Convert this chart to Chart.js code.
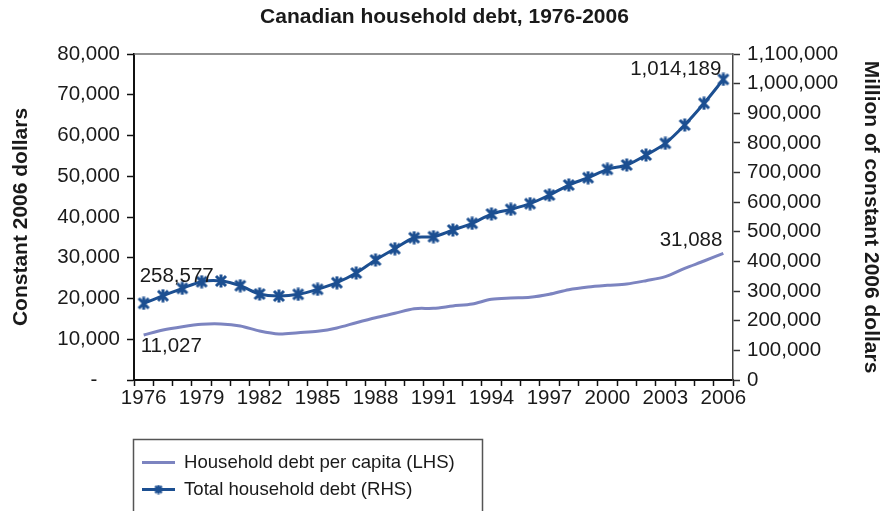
<!DOCTYPE html>
<html>
<head>
<meta charset="utf-8">
<title>Canadian household debt, 1976-2006</title>
<script src="https://cdn.jsdelivr.net/npm/chart.js@4/dist/chart.umd.min.js"></script>
<style>
  html, body { margin: 0; padding: 0; background: #fff; }
  #wrap { position: relative; width: 891px; height: 511px; }
</style>
</head>
<body>
<div id="wrap"><canvas id="debtChart" width="891" height="511"></canvas></div>
<script>
// ---- data ----
var years = ['1976', '1977', '1978', '1979', '1980', '1981', '1982', '1983', '1984', '1985',
             '1986', '1987', '1988', '1989', '1990', '1991', '1992', '1993', '1994', '1995',
             '1996', '1997', '1998', '1999', '2000', '2001', '2002', '2003', '2004', '2005', '2006'];

// household debt per capita, constant 2006 dollars (left axis)
var perCapita = [11027, 12270, 13080, 13660, 13740, 13250, 12020, 11290, 11620, 11950,
                 12760, 14060, 15290, 16360, 17500, 17590, 18160, 18650, 19800, 20120,
                 20290, 21030, 22160, 22820, 23230, 23560, 24380, 25360, 27400, 29200, 31088];

// total household debt, million of constant 2006 dollars (right axis)
var totalDebt = [258577, 284400, 309300, 331700, 334000, 318200, 290100, 283400, 289100, 306000,
                 328300, 361000, 404900, 443000, 480100, 483500, 506100, 528700, 560000, 575900,
                 595000, 624200, 657900, 682600, 710900, 725400, 759100, 798600, 860300, 933500, 1014189];

var leftTicks = [0, 10000, 20000, 30000, 40000, 50000, 60000, 70000, 80000];
var rightTicks = [0, 100000, 200000, 300000, 400000, 500000, 600000, 700000, 800000, 900000, 1000000, 1100000];

var seriesNames = ['Household debt per capita (LHS)', 'Total household debt (RHS)'];

// ---- styling ----
var FONT = 'Arial, "Liberation Sans", Helvetica, sans-serif';
var DARK_BLUE = '#1c4f91';
var LAVENDER = '#7c84c0';
var TEXT = '#1a1a1a';

// asterisk-like marker (X with a vertical bar)
function makeStar(size, lw) {
  var c = document.createElement('canvas');
  c.width = size; c.height = size;
  var g = c.getContext('2d');
  var m = lw / 2 + 0.5;
  g.strokeStyle = DARK_BLUE;
  g.lineWidth = lw;
  g.lineCap = 'butt';
  g.beginPath();
  g.moveTo(m, m); g.lineTo(size - m, size - m);
  g.moveTo(size - m, m); g.lineTo(m, size - m);
  g.moveTo(size / 2, 0.5); g.lineTo(size / 2, size - 0.5);
  g.stroke();
  return c;
}
var starMarker = makeStar(14, 3);
var starSmall = makeStar(10, 2.4);

function fmt(v) { return v.toLocaleString('en-US'); }

// title, top frame line, value callouts and the boxed legend
var decorPlugin = {
  id: 'decor',
  afterDraw: function(chart) {
    var ctx = chart.ctx;
    var area = chart.chartArea;
    ctx.save();

    // top frame
    ctx.strokeStyle = '#6b6b6b';
    ctx.lineWidth = 1.5;
    ctx.beginPath();
    ctx.moveTo(area.left, area.top);
    ctx.lineTo(area.right, area.top);
    ctx.stroke();

    // title
    ctx.fillStyle = TEXT;
    ctx.font = 'bold 21px ' + FONT;
    ctx.textAlign = 'center';
    ctx.textBaseline = 'middle';
    ctx.fillText('Canadian household debt, 1976-2006', chart.width / 2 - 1, 17);

    // callouts at the first and last points
    var lhs = chart.getDatasetMeta(0).data;
    var rhs = chart.getDatasetMeta(1).data;
    var last = years.length - 1;
    ctx.font = '20.5px ' + FONT;
    ctx.textBaseline = 'middle';

    ctx.textAlign = 'left';
    ctx.fillText(fmt(totalDebt[0]), rhs[0].x - 4, rhs[0].y - 27);
    ctx.fillText(fmt(perCapita[0]), lhs[0].x - 3, lhs[0].y + 11);

    ctx.textAlign = 'right';
    ctx.fillText(fmt(perCapita[last]), lhs[last].x - 1, lhs[last].y - 13);
    ctx.fillText(fmt(totalDebt[last]), rhs[last].x - 2, rhs[last].y - 10);

    // legend box
    var lx = 133.5, ly = 439.5, lw = 349;
    ctx.strokeStyle = '#555';
    ctx.lineWidth = 1.5;
    ctx.beginPath();
    ctx.moveTo(lx, chart.height + 2);
    ctx.lineTo(lx, ly);
    ctx.lineTo(lx + lw, ly);
    ctx.lineTo(lx + lw, chart.height + 2);
    ctx.stroke();

    var rows = [462.5, 489.5];
    ctx.lineWidth = 3;
    ctx.strokeStyle = LAVENDER;
    ctx.beginPath();
    ctx.moveTo(142, rows[0]); ctx.lineTo(175, rows[0]);
    ctx.stroke();
    ctx.strokeStyle = DARK_BLUE;
    ctx.beginPath();
    ctx.moveTo(142, rows[1]); ctx.lineTo(175, rows[1]);
    ctx.stroke();
    ctx.drawImage(starSmall, 158.5 - 5, rows[1] - 5);

    ctx.fillStyle = TEXT;
    ctx.font = '18.6px ' + FONT;
    ctx.textAlign = 'left';
    ctx.textBaseline = 'middle';
    ctx.fillText(seriesNames[0], 184, rows[0]);
    ctx.fillText(seriesNames[1], 184, rows[1]);

    ctx.restore();
  }
};

var chart = new Chart(document.getElementById('debtChart'), {
  type: 'line',
  data: {
    labels: years,
    datasets: [
      {
        label: seriesNames[0],
        data: perCapita,
        yAxisID: 'yLeft',
        borderColor: LAVENDER,
        borderWidth: 3,
        pointRadius: 0,
        tension: 0.3,
        fill: false
      },
      {
        label: seriesNames[1],
        data: totalDebt,
        yAxisID: 'yRight',
        borderColor: DARK_BLUE,
        backgroundColor: DARK_BLUE,
        borderWidth: 3,
        pointStyle: starMarker,
        pointRadius: 7,
        tension: 0.3,
        fill: false
      }
    ]
  },
  options: {
    responsive: false,
    animation: false,
    layout: { padding: { top: 54, left: 0, right: 0, bottom: 0 } },
    plugins: {
      legend: { display: false },
      title: { display: false },
      tooltip: { enabled: false }
    },
    scales: {
      x: {
        type: 'category',
        offset: true,
        grid: {
          offset: true,
          drawOnChartArea: false,
          drawTicks: true,
          tickLength: 6,
          tickColor: '#111',
          tickWidth: 1.5
        },
        border: { color: '#111', width: 2 },
        ticks: {
          autoSkip: false,
          maxRotation: 0,
          padding: 0,
          color: TEXT,
          font: { family: FONT, size: 20.5 },
          callback: function(value, index) {
            return index % 3 === 0 ? years[index] : '';
          }
        },
        afterFit: function(scale) { scale.height = 131; }
      },
      yLeft: {
        position: 'left',
        min: 0,
        max: 80000,
        afterBuildTicks: function(scale) {
          scale.ticks = leftTicks.map(function(v) { return { value: v }; });
        },
        grid: {
          drawOnChartArea: false,
          tickLength: 7,
          tickColor: '#111',
          tickWidth: 1.5
        },
        border: { color: '#111', width: 2 },
        ticks: {
          padding: 7,
          color: TEXT,
          font: { family: FONT, size: 20.5 },
          callback: function(value) { return value === 0 ? '-    ' : fmt(value); }
        },
        title: {
          display: true,
          text: 'Constant 2006 dollars',
          color: TEXT,
          font: { family: FONT, size: 21, weight: 'bold' },
          padding: { top: 9, bottom: 0 }
        },
        afterFit: function(scale) { scale.width = 134; }
      },
      yRight: {
        position: 'right',
        min: 0,
        max: 1100000,
        afterBuildTicks: function(scale) {
          scale.ticks = rightTicks.map(function(v) { return { value: v }; });
        },
        grid: {
          drawOnChartArea: false,
          tickLength: 7,
          tickColor: '#333',
          tickWidth: 1.5
        },
        border: { color: '#444', width: 1.5 },
        ticks: {
          padding: 7,
          color: TEXT,
          font: { family: FONT, size: 20.5 },
          callback: function(value) { return fmt(value); }
        },
        title: {
          display: true,
          text: 'Million of constant 2006 dollars',
          color: TEXT,
          font: { family: FONT, size: 21, weight: 'bold' },
          padding: { top: 8, bottom: 0 }
        },
        afterFit: function(scale) { scale.width = 158; }
      }
    }
  },
  plugins: [decorPlugin]
});
</script>
</body>
</html>
